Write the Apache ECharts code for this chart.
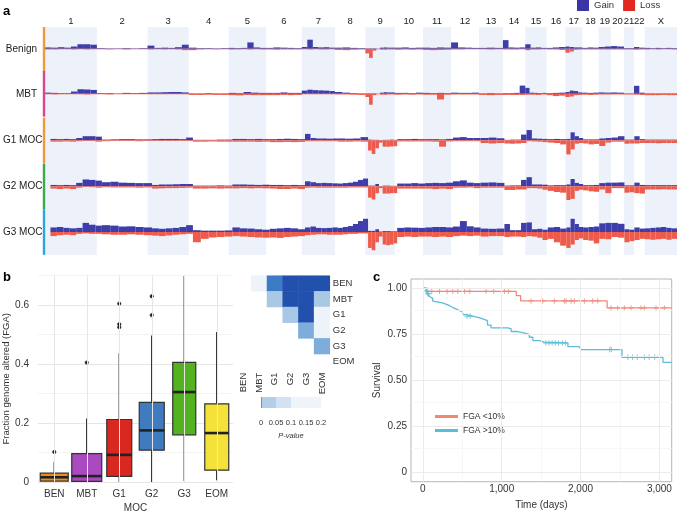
<!DOCTYPE html>
<html><head><meta charset="utf-8">
<script src="https://cdn.jsdelivr.net/npm/echarts@6/dist/echarts.min.js"></script>
<style>html,body{margin:0;padding:0;background:#fff}#c{width:677px;height:514px}</style>
</head><body><div id="c"></div>
<script>
// ---------------- Panel a data (frequencies in %) ----------------
const chromNames = ['1','2','3','4','5','6','7','8','9','10','11','12','13','14','15','16','17','18','19','20','21','22','X'];
const chromLengths = [249.25,243.2,198.0,191.2,180.9,171.1,159.1,146.4,141.2,135.5,135.0,133.9,115.2,107.3,102.5,90.4,81.2,78.1,59.1,63.0,48.1,51.3,155.3];
const rowNames = ['Benign','MBT','G1 MOC','G2 MOC','G3 MOC'];

const gainBenign = [[6,5,7,5,10,20,20,18],[3,2,2,3,2,3],[14,4,5,4,7,18],[5,3,3,2,3],[4,3,4,28,6,4],[4,6,5,4,3],[8,40,8,6,7,5],[5,6,4,3],[2,2,2,1,5,6,5,5],[5,6,4,5],[5,4,6,5],[28,6,5,4],[4,5,4],[38,6,5,6],[20,5,6,4],[4,6,8],[10,8,6,6],[4,6,5],[8,10],[12,10],[3,3],[8,5],[4,3,4,3,4,3]];
const lossBenign = [[3,3,2,2,3,2,3,2],[2,3,2,3,2,2],[3,2,3,2,3,6],[6,3,2,3,2],[3,3,2,3,2,3],[3,4,3,3,3],[2,3,2,3,3,2],[5,6,4,3],[20,40,8,2,4,4,3,3],[4,3,4,3],[5,6,5,4],[3,3,2,2],[2,3,2],[3,3,3,2],[6,3,3,2],[3,3,5],[17,12,4,3],[3,3,3],[3,3],[3,3],[3,3],[4,3],[3,2,3,2,2,3]];

const gainMBT = [[5,4,3,3,10,20,19,17],[3,3,2,4,3,4],[6,6,7,8,8,6],[2,2,3,2,2],[4,3,8,5,4],[4,4,6,4,4],[14,18,16,15,14,12],[8,5,3,2],[2,2,2,1,5,7,6,6],[4,4,3,5],[4,3,4,3],[5,4,4,5],[2,3,2],[3,3,4,36],[26,5,4,3,4],[3,4,5],[8,14,12,6],[5,4,5],[6,5],[6,5],[2,2],[35,5],[2,2,2,2,2,2]];
const lossMBT = [[2,3,2,2,2,2,3,2],[2,3,2,2,2,2],[2,2,2,2,2,2],[5,5,4,5,5],[6,7,5,6,6],[6,6,5,6,5],[2,2,2,2,2,2],[3,3,4,5],[14,48,6,2,4,4,3,3],[4,3,4,3],[4,4,25,4],[3,3,3,3],[5,6,5],[5,5,5,5],[4,4,5,3],[6,10,8],[14,12,6,5],[4,5,4],[3,3],[3,3],[3,3],[4,5],[6,6,6,5,6,6]];

const gainG1 = [[6,5,6,5,10,18,18,16],[3,4,5,5,4,4],[5,6,6,6,5,12],[2,2,2,3,3],[6,6,5,6,5],[5,6,7,6,5],[28,10,8,8,7,8],[8,7,8,14],[3,2,2,1,2,2,3,2],[5,5,6,5],[5,5,4,6],[12,14,10,10],[10,12,9],[2,3,3,25],[45,8,7,6],[5,6,5],[6,35,18,10],[4,4,4],[8,10],[12,18],[3,3],[18,5],[3,3,3,3,3,3]];
const lossG1 = [[6,6,5,6,4,3,3,6],[4,3,3,3,4,3],[3,3,3,3,3,3],[6,6,5,6,6],[6,6,6,7,6],[8,8,7,8,7],[4,4,4,4,4,4],[6,6,5,6],[45,60,35,10,28,28,27,26],[5,5,5,5],[5,6,28,5],[4,4,4,4],[12,14,12],[14,15,14,12],[4,5,6,8],[10,12,18],[62,40,15,12],[14,18,16],[25,10],[6,6],[15,14],[14,12],[12,12,13,12,12,12]];

const gainG2 = [[6,5,6,5,15,30,28,25],[18,20,16,15,14,14],[6,8,8,9,10,10],[3,3,3,4,3],[8,8,7,6,7],[6,6,5,6,5],[22,18,14,15,14,13],[12,14,16,20,28,34],[3,3,10,1,3,3,2,2],[12,12,14,12],[14,15,14,16],[22,26,16,14],[16,17,15],[3,4,4,28],[40,8,8,7],[4,5,5],[8,32,15,10],[5,5,6],[14,16],[16,17],[4,4],[16,6],[5,5,5,5,5,5]];
const lossG2 = [[10,12,10,12,6,3,4,6],[4,5,5,5,6,5],[10,9,8,8,7,6],[10,10,9,10,9],[9,8,9,8,9],[10,12,12,10,12],[6,5,6,6,6,6],[6,6,5,5,5,5],[50,58,30,8,32,32,30,30],[10,10,10,10],[10,12,10,12],[6,6,5,8],[6,6,6],[16,16,14,14],[8,8,10,15],[20,25,28],[60,55,20,15],[18,22,24],[14,30],[8,8],[28,26],[30,32],[14,14,14,13,14,14]];

const gainG3 = [[20,22,18,16,18,40,32,28],[30,28,24,25,22,20],[16,14,16,18,22,30],[8,6,6,6,7],[20,16,15,12,10],[14,16,18,16,12],[20,24,18,17,18,20],[18,22,26,35,48,58],[5,5,12,2,4,4,3,3],[18,20,19,18],[20,22,22,20],[24,48,25,20],[15,14,15],[35,8,8,40],[42,12,14,10],[20,22,15],[20,58,35,22],[20,22,24],[38,40],[40,36],[12,10],[20,15],[16,18,20,22,18,16]];
const lossG3 = [[18,14,12,14,8,6,8,8],[10,12,12,10,12,14],[16,18,15,12,10,8],[45,30,24,22,20],[18,20,22,24,25],[24,26,22,20,18],[14,12,10,10,12,12],[12,10,8,8,6,6],[70,80,45,20,55,58,55,50],[22,20,22,20],[20,22,20,22],[18,16,18,16],[20,18,18],[22,20,20,22],[18,20,25,35],[30,45,60],[70,55,35,28],[35,38,50],[30,32],[22,25],[45,40],[35,30],[32,34,32,30,34,30]];

const rowGains = [gainBenign, gainMBT, gainG1, gainG2, gainG3];
const rowLosses = [lossBenign, lossMBT, lossG1, lossG2, lossG3];

// ---------------- Panel b data ----------------
const boxCats = ['BEN','MBT','G1','G2','G3','EOM'];
const boxMin = [0, 0, 0, 0, 0.003, 0.006];
const boxQ1 = [0.003, 0.002, 0.019, 0.108, 0.16, 0.04];
const boxMed = [0.016, 0.02, 0.092, 0.175, 0.305, 0.166];
const boxQ3 = [0.03, 0.096, 0.212, 0.27, 0.406, 0.265];
const boxMax = [0.069, 0.215, 0.437, 0.497, 0.699, 0.509];
const outlierCats = ['BEN','MBT','G1','G1','G1','G2','G2'];
const outlierVals = [0.102, 0.405, 0.525, 0.535, 0.605, 0.566, 0.63];

// heatmap of pairwise p-values
const hmCats = ['BEN','MBT','G1','G2','G3','EOM'];
const pCol = ['MBT','G1','G2','G3','EOM','G1','G2','G3','EOM','G2','G3','EOM','G3','EOM','EOM'];
const pRow = ['BEN','BEN','BEN','BEN','BEN','MBT','MBT','MBT','MBT','G1','G1','G1','G2','G2','G3'];
const pVal = [0.3, 0.006, 0.0001, 0.0001, 0.0001, 0.04, 0.0001, 0.0001, 0.04, 0.04, 0.0001, 0.5, 0.02, 0.3, 0.02];
const cbSegments = [0.005, 0.045, 0.05, 0.1];

// ---------------- Panel c data ----------------
const redT = [0, 55, 1185, 1240, 2337, 3156];
const redS = [1.0, 0.983, 0.96, 0.931, 0.893, 0.893];
const blueT = [0,40,60,85,105,125,150,250,300,340,380,420,465,505,550,630,700,760,820,865,1080,1120,1200,1290,1350,1395,1480,1540,1840,1985,2005,2525,3045,3156];
const blueS = [1.0,0.985,0.97,0.955,0.945,0.93,0.92,0.912,0.905,0.895,0.888,0.879,0.87,0.857,0.848,0.842,0.833,0.824,0.80,0.785,0.78,0.765,0.756,0.75,0.734,0.716,0.707,0.703,0.683,0.68,0.667,0.625,0.598,0.598];
const redCensor = [113,211,308,380,443,528,595,802,899,1035,1085,1372,1520,1668,1795,1816,1880,1922,2049,2154,2218,2387,2471,2556,2640,2767,2809,2957,3063];
const blueCensor = [45,62,75,560,600,1560,1600,1640,1680,1720,1770,1810,2370,2390,2600,2660,2720,2810,2870,2940,3000];
const kmXTicks = [0,1000,2000,3000];
const kmYTicks = [0,0.25,0.5,0.75,1];

// ---------------- styles ----------------
const FONT = 'Liberation Sans, Arial, sans-serif';
const GAIN = '#3d3dab', LOSS = '#ef5b4b';
const rowColors = ['#ec9a3c','#d9468f','#ec9a3c','#3caa4a','#2aa7dc'];
const rowTops = [26, 71, 117.5, 163.5, 209.2];
const rowH = 45.6;
const boxColors = ['#f08c16','#aa4ac0','#d9281f','#3f7bbf','#52b21f','#f4e23a'];
const boxWidths = [28,30,25,25,23,24];
const cbColors = ['#5f95d0','#b4cee7','#d2e2f3','#eff3fa'];
const RED = '#f0887a', BLUE = '#5dbcd6';

const chromStarts = [];
let acc = 0;
chromLengths.forEach(l => { chromStarts.push(acc); acc += l; });
const genomeLen = acc;

function segs(arr, sign) {
  const out = [];
  arr.forEach((vals, ci) => {
    const w = chromLengths[ci] / vals.length;
    vals.forEach((v, k) => out.push([chromStarts[ci] + k * w, chromStarts[ci] + (k + 1) * w, sign * v]));
  });
  return out;
}
function renderSeg(params, api) {
  const p0 = api.coord([api.value(0), 0]);
  const p1 = api.coord([api.value(1), api.value(2)]);
  return { type: 'rect', shape: { x: p0[0], y: Math.min(p0[1], p1[1]), width: p1[0] - p0[0], height: Math.abs(p1[1] - p0[1]) }, style: { fill: api.visual('color') } };
}
function stepAt(T, S, t) { let s = S[0]; for (let i = 0; i < T.length; i++) { if (T[i] <= t) s = S[i]; } return s; }

const grids = [], xAxes = [], yAxes = [], series = [];
// grid 0: background shading + chromosome labels
grids.push({ left: 45, top: 27, width: 632, height: 228 });
xAxes.push({ gridIndex: 0, type: 'value', min: 0, max: genomeLen, show: false });
yAxes.push({ gridIndex: 0, type: 'value', min: 0, max: 1, show: false });
series.push({
  type: 'line', xAxisIndex: 0, yAxisIndex: 0, data: [], silent: true,
  markArea: {
    silent: true,
    label: { show: true, position: 'top', distance: 1, color: '#222', fontSize: 9.5, fontFamily: FONT },
    data: chromNames.map((n, i) => [
      { name: n, xAxis: chromStarts[i], itemStyle: { color: i % 2 === 0 ? '#edf2fa' : 'rgba(255,255,255,0)' } },
      { xAxis: chromStarts[i] + chromLengths[i] }
    ])
  }
});
// rows
rowNames.forEach((name, r) => {
  const gi = grids.length;
  grids.push({ left: 45, top: rowTops[r], width: 632, height: rowH });
  xAxes.push({ gridIndex: gi, type: 'value', min: 0, max: genomeLen, show: false });
  yAxes.push({
    gridIndex: gi, type: 'value', min: -100, max: 100, interval: 100,
    axisLine: { show: false }, axisTick: { show: false }, splitLine: { show: false },
    axisLabel: { formatter: v => (v === 0 ? name : ''), margin: 8, fontSize: 10, color: '#222', fontFamily: FONT }
  });
  series.push({ name: 'Gain', type: 'custom', xAxisIndex: gi, yAxisIndex: gi, renderItem: renderSeg, itemStyle: { color: GAIN }, encode: { x: [0, 1], y: 2 }, data: segs(rowGains[r], 1), silent: true });
  series.push({ name: 'Loss', type: 'custom', xAxisIndex: gi, yAxisIndex: gi, renderItem: renderSeg, itemStyle: { color: LOSS }, encode: { x: [0, 1], y: 2 }, data: segs(rowLosses[r], -1), silent: true });
});

// panel b boxplot
const gb = grids.length;
grids.push({ left: 38, top: 275.6, width: 195, height: 211.1 });
xAxes.push({ gridIndex: gb, type: 'category', data: boxCats, axisLine: { show: false }, axisTick: { show: false },
  axisLabel: { fontSize: 10, color: '#333', margin: 7, fontFamily: FONT },
  name: 'MOC', nameLocation: 'middle', nameGap: 21, nameTextStyle: { fontSize: 10, color: '#333', fontFamily: FONT } });
yAxes.push({ gridIndex: gb, type: 'value', min: 0, max: 0.7, interval: 0.1,
  axisLine: { show: false }, axisTick: { show: false },
  axisLabel: { formatter: v => { const k = Math.round(v * 10); return k % 2 === 0 ? (k === 0 ? '0' : (k / 10).toFixed(1)) : ''; }, fontSize: 10, color: '#333', margin: 9, fontFamily: FONT },
  splitLine: { show: true, lineStyle: { color: ['#e6e6e6', '#f3f3f3'], width: 1 } },
  name: 'Fraction genome altered (FGA)', nameLocation: 'middle', nameGap: 25, nameTextStyle: { fontSize: 9.5, color: '#333', fontFamily: FONT } });
series.push({ type: 'line', xAxisIndex: gb, yAxisIndex: gb, data: [], silent: true, z: 1,
  markLine: { silent: true, symbol: 'none', label: { show: false }, lineStyle: { color: '#e6e6e6', type: 'solid', width: 1 }, data: boxCats.map(c => ({ xAxis: c })) } });
series.push({ type: 'custom', xAxisIndex: gb, yAxisIndex: gb, z: 3, silent: true,
  encode: { x: 0, y: [1, 2, 3, 4, 5] },
  data: boxCats.map((c, i) => [i, boxMin[i], boxQ1[i], boxMed[i], boxQ3[i], boxMax[i]]),
  renderItem: (params, api) => {
    const i = api.value(0);
    const x = api.coord([i, 0])[0];
    const y = k => api.coord([i, api.value(k)])[1];
    const w = boxWidths[i];
    const yMin = y(1), yQ1 = y(2), yMed = y(3), yQ3 = y(4), yMax = y(5);
    return { type: 'group', children: [
      { type: 'line', shape: { x1: x, y1: yMin, x2: x, y2: yQ1 }, style: { stroke: '#222', lineWidth: 1.3 } },
      { type: 'line', shape: { x1: x, y1: yQ3, x2: x, y2: yMax }, style: { stroke: '#222', lineWidth: 1.3 } },
      { type: 'rect', shape: { x: x - w / 2, y: yQ3, width: w, height: Math.max(yQ1 - yQ3, 0.5) }, style: { fill: boxColors[i], stroke: '#333', lineWidth: 1.2 } },
      { type: 'line', shape: { x1: x - w / 2, y1: yMed, x2: x + w / 2, y2: yMed }, style: { stroke: '#222', lineWidth: 2.6 } }
    ] };
  } });
series.push({ type: 'scatter', xAxisIndex: gb, yAxisIndex: gb, z: 4, silent: true, symbol: 'circle', symbolSize: 3.4,
  itemStyle: { color: '#222', borderColor: '#222', borderWidth: 0.6, opacity: 1 },
  data: outlierCats.map((c, i) => [c, outlierVals[i]]) });

// heatmap
const gh = grids.length;
grids.push({ left: 235.6, top: 275.7, width: 94.2, height: 94 });
xAxes.push({ gridIndex: gh, type: 'category', data: hmCats, axisLine: { show: false }, axisTick: { show: false }, splitLine: { show: false },
  axisLabel: { rotate: 90, fontSize: 9.5, color: '#333', margin: 3, interval: 0, fontFamily: FONT } });
yAxes.push({ gridIndex: gh, type: 'category', data: hmCats, inverse: true, position: 'right', axisLine: { show: false }, axisTick: { show: false }, splitLine: { show: false },
  axisLabel: { fontSize: 9.5, color: '#333', margin: 3, interval: 0, fontFamily: FONT } });
const hmIndex = series.length;
series.push({ type: 'heatmap', xAxisIndex: gh, yAxisIndex: gh, silent: true, data: pVal.map((p, i) => [pCol[i], pRow[i], p]) });

// colour bar
const gc = grids.length;
grids.push({ left: 261, top: 397, width: 60, height: 11 });
xAxes.push({ gridIndex: gc, type: 'value', min: 0, max: 0.2, interval: 0.05, axisLine: { show: false }, axisTick: { show: false }, splitLine: { show: false },
  axisLabel: { fontSize: 7.5, color: '#333', margin: 11, formatter: v => String(Math.round(v * 100) / 100), fontFamily: FONT },
  name: 'P-value', nameLocation: 'middle', nameGap: 24, nameTextStyle: { fontSize: 7.5, fontStyle: 'italic', color: '#333', fontFamily: FONT } });
yAxes.push({ gridIndex: gc, type: 'category', data: ['p'], show: false });
cbSegments.forEach((v, i) => series.push({ type: 'bar', xAxisIndex: gc, yAxisIndex: gc, stack: 'cb', barWidth: '100%', silent: true, itemStyle: { color: cbColors[i] }, data: [v] }));

// panel c KM
const gk = grids.length;
grids.push({ left: 411, top: 279, width: 260.7, height: 202.7, show: true, borderColor: '#b5b5b5', borderWidth: 1, backgroundColor: '#fff' });
xAxes.push({ gridIndex: gk, type: 'value', min: -150, max: 3156, axisLine: { show: false },
  axisTick: { show: true, length: 3, lineStyle: { color: '#777' }, customValues: kmXTicks },
  axisLabel: { customValues: kmXTicks, fontSize: 10, color: '#333', margin: 3, fontFamily: FONT },
  splitLine: { show: false },
  name: 'Time (days)', nameLocation: 'middle', nameGap: 19, nameTextStyle: { fontSize: 10, color: '#333', fontFamily: FONT } });
yAxes.push({ gridIndex: gk, type: 'value', min: -0.05, max: 1.05, axisLine: { show: false },
  axisTick: { show: true, length: 3, lineStyle: { color: '#777' }, customValues: kmYTicks },
  axisLabel: { customValues: kmYTicks, formatter: v => (v === 0 ? '0' : v.toFixed(2)), fontSize: 10, color: '#333', margin: 4, fontFamily: FONT },
  splitLine: { show: false },
  name: 'Survival', nameLocation: 'middle', nameGap: 29, nameTextStyle: { fontSize: 10, color: '#333', fontFamily: FONT } });
series.push({ type: 'line', xAxisIndex: gk, yAxisIndex: gk, data: [], silent: true, z: 1,
  markLine: { silent: true, symbol: 'none', label: { show: false }, animation: false,
    data: [
      ...kmXTicks.map(v => ({ xAxis: v, lineStyle: { color: '#ebebeb', type: 'solid', width: 1 } })),
      ...[500, 1500, 2500].map(v => ({ xAxis: v, lineStyle: { color: '#f5f5f5', type: 'solid', width: 0.8 } })),
      ...kmYTicks.map(v => ({ yAxis: v, lineStyle: { color: '#ebebeb', type: 'solid', width: 1 } })),
      ...[0.125, 0.375, 0.625, 0.875].map(v => ({ yAxis: v, lineStyle: { color: '#f5f5f5', type: 'solid', width: 0.8 } }))
    ] } });
series.push({ name: 'FGA <10%', type: 'line', step: 'end', xAxisIndex: gk, yAxisIndex: gk, showSymbol: false, silent: true, z: 3,
  lineStyle: { color: RED, width: 1.3 }, itemStyle: { color: RED }, data: redT.map((t, i) => [t, redS[i]]) });
series.push({ name: 'FGA >10%', type: 'line', step: 'end', xAxisIndex: gk, yAxisIndex: gk, showSymbol: false, silent: true, z: 3,
  lineStyle: { color: BLUE, width: 1.3 }, itemStyle: { color: BLUE }, data: blueT.map((t, i) => [t, blueS[i]]) });
const plus = 'path://M3.3,0H4.7V3.3H8V4.7H4.7V8H3.3V4.7H0V3.3H3.3Z';
series.push({ type: 'scatter', xAxisIndex: gk, yAxisIndex: gk, silent: true, z: 4, symbol: plus, symbolSize: 5.5, itemStyle: { color: RED },
  data: redCensor.map(t => [t, stepAt(redT, redS, t)]) });
series.push({ type: 'scatter', xAxisIndex: gk, yAxisIndex: gk, silent: true, z: 4, symbol: plus, symbolSize: 5.5, itemStyle: { color: BLUE },
  data: blueCensor.map(t => [t, stepAt(blueT, blueS, t)]) });

const option = {
  animation: false,
  textStyle: { fontFamily: FONT },
  title: [
    { text: 'a', left: 1, top: 3, padding: 2, textStyle: { fontSize: 13, fontWeight: 'bold', color: '#000', fontFamily: FONT } },
    { text: 'b', left: 1, top: 269, padding: 2, textStyle: { fontSize: 13, fontWeight: 'bold', color: '#000', fontFamily: FONT } },
    { text: 'c', left: 371, top: 269, padding: 2, textStyle: { fontSize: 13, fontWeight: 'bold', color: '#000', fontFamily: FONT } }
  ],
  graphic: rowColors.map((c, r) => ({ type: 'rect', silent: true, z: 10, shape: { x: 42.8, y: rowTops[r] + (r === 0 ? 1 : 0), width: 2.4, height: rowH - (r === 0 ? 1 : 0) }, style: { fill: c } })),
  legend: [
    { left: 577, top: 0, padding: 0, itemWidth: 12, itemHeight: 11, itemGap: 9, selectedMode: false,
      textStyle: { fontSize: 9.5, color: '#333', fontFamily: FONT },
      data: [{ name: 'Gain', icon: 'rect', itemStyle: { color: '#3a34a6' } }, { name: 'Loss', icon: 'rect', itemStyle: { color: '#e2291f' } }] },
    { left: 435, top: 412, padding: 0, orient: 'vertical', itemWidth: 23, itemHeight: 3, itemGap: 5, selectedMode: false,
      textStyle: { fontSize: 8.5, color: '#333', fontFamily: FONT },
      data: [{ name: 'FGA <10%', icon: 'rect' }, { name: 'FGA >10%', icon: 'rect' }] }
  ],
  visualMap: {
    type: 'piecewise', show: false, seriesIndex: hmIndex, dimension: 2,
    pieces: [
      { lt: 0.001, color: '#2150ad' },
      { gte: 0.001, lt: 0.01, color: '#3c7cc4' },
      { gte: 0.01, lt: 0.03, color: '#7eaddb' },
      { gte: 0.03, lt: 0.06, color: '#a9c8e6' },
      { gte: 0.06, lt: 0.15, color: '#d2e1f2' },
      { gte: 0.15, color: '#eef2f9' }
    ]
  },
  grid: grids, xAxis: xAxes, yAxis: yAxes, series: series
};
const chart = echarts.init(document.getElementById('c'), null, { renderer: 'canvas' });
chart.setOption(option);
</script>
</body></html>
